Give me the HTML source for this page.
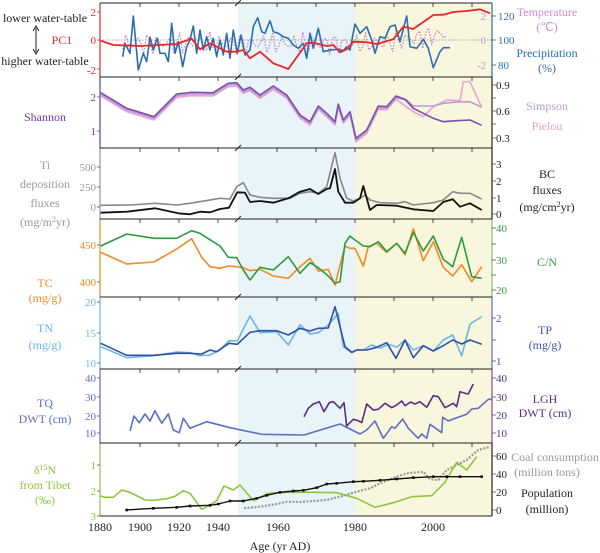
<!DOCTYPE html>
<html><head><meta charset="utf-8"><style>
body{margin:0;background:#fff}
svg{display:block}
svg text{font-family:"Liberation Serif","Times New Roman",serif}
</style></head><body>
<svg id="s" width="600" height="553" viewBox="0 0 600 553" xmlns="http://www.w3.org/2000/svg" font-family="Liberation Serif, serif">
<rect x="238" y="3" width="117" height="513" fill="#e9f4f8"/>
<rect x="355" y="3" width="137" height="513" fill="#f9f6de"/>
<g id="lines"></g>
<g id="frame" stroke="#222" stroke-width="1" fill="none">
<line x1="100" y1="3" x2="492" y2="3"/>
<line x1="100" y1="77" x2="492" y2="77"/>
<line x1="100" y1="148" x2="492" y2="148"/>
<line x1="100" y1="219" x2="492" y2="219"/>
<line x1="100" y1="297" x2="492" y2="297"/>
<line x1="100" y1="369" x2="492" y2="369"/>
<line x1="100" y1="443" x2="492" y2="443"/>
<line x1="100" y1="516" x2="492" y2="516"/>
</g>
<g font-size="11" text-anchor="end" font-family="Liberation Serif, serif">
<text x="96" y="16" fill="#e8262a">2</text><text x="96" y="44" fill="#e8262a">0</text><text x="96" y="74" fill="#e8262a">-2</text>
<text x="96" y="101" fill="#6b3d98">2</text><text x="96" y="135" fill="#6b3d98">1</text>
<text x="96" y="171" fill="#999">500</text><text x="96" y="191" fill="#999">250</text><text x="96" y="211" fill="#999">0</text>
<text x="96" y="249" fill="#f08a24">450</text><text x="96" y="286" fill="#f08a24">400</text>
<text x="96" y="306" fill="#6bb5e5">20</text><text x="96" y="337" fill="#6bb5e5">15</text><text x="96" y="367" fill="#6bb5e5">10</text>
<text x="96" y="382" fill="#5b6fc4">40</text><text x="96" y="401" fill="#5b6fc4">30</text><text x="96" y="420" fill="#5b6fc4">20</text><text x="96" y="437" fill="#5b6fc4">10</text>
<text x="96" y="469" fill="#8cc63e">1</text><text x="96" y="495" fill="#8cc63e">2</text><text x="96" y="520" fill="#8cc63e">3</text>
<text x="486" y="20" fill="#d08ad0">2</text><text x="486" y="44" fill="#d08ad0">0</text><text x="486" y="69" fill="#d08ad0">-2</text>
</g>
<g font-size="11" font-family="Liberation Serif, serif">
<text x="498" y="20" fill="#2a6db0">120</text><text x="498" y="44" fill="#2a6db0">100</text><text x="498" y="69" fill="#2a6db0">80</text>
<text x="496" y="89" fill="#222">0.9</text><text x="496" y="115" fill="#222">0.6</text><text x="496" y="142" fill="#222">0.3</text>
<text x="496" y="168" fill="#222">3</text><text x="496" y="185" fill="#222">2</text><text x="496" y="202" fill="#222">1</text><text x="496" y="218" fill="#222">0</text>
<text x="496" y="232" fill="#3a9a3e">40</text><text x="496" y="264" fill="#3a9a3e">30</text><text x="496" y="294" fill="#3a9a3e">20</text>
<text x="496" y="322" fill="#3b55b0">2</text><text x="496" y="365" fill="#3b55b0">1</text>
<text x="496" y="382" fill="#5b2d82">40</text><text x="496" y="401" fill="#5b2d82">30</text><text x="496" y="419" fill="#5b2d82">20</text><text x="496" y="437" fill="#5b2d82">10</text>
<text x="496" y="460" fill="#222">60</text><text x="496" y="478" fill="#222">40</text><text x="496" y="496" fill="#222">20</text><text x="496" y="514" fill="#222">0</text>
</g>
<g font-size="12" text-anchor="middle" font-family="Liberation Serif, serif">
<text x="45" y="22" fill="#222">lower water-table</text>
<text x="62" y="44" fill="#e8262a">PC1</text>
<text x="45" y="65" fill="#222">higher water-table</text>
<text x="45" y="121" fill="#6b3d98">Shannon</text>
<text x="45" y="169" fill="#999">Ti</text><text x="45" y="188" fill="#999">deposition</text><text x="45" y="207" fill="#999">fluxes</text><text x="45" y="226" fill="#999">(mg/m<tspan dy="-4" font-size="8">2</tspan><tspan dy="4">yr)</tspan></text>
<text x="45" y="287" fill="#f08a24">TC</text><text x="45" y="302" fill="#f08a24">(mg/g)</text>
<text x="45" y="332" fill="#6bb5e5">TN</text><text x="45" y="349" fill="#6bb5e5">(mg/g)</text>
<text x="45" y="407" fill="#5b6fc4">TQ</text><text x="45" y="423" fill="#5b6fc4">DWT (cm)</text>
<text x="45" y="474" fill="#8cc63e">δ<tspan dy="-4" font-size="8">15</tspan><tspan dy="4">N</tspan></text><text x="45" y="489" fill="#8cc63e">from Tibet</text><text x="45" y="504" fill="#8cc63e">(‰)</text>
<text x="547" y="16" fill="#d08ad0">Temperature</text><text x="547" y="31" fill="#d08ad0">(℃)</text>
<text x="547" y="57" fill="#2a6db0">Precipitation</text><text x="547" y="72" fill="#2a6db0">(%)</text>
<text x="547" y="110" fill="#b99ad8">Simpson</text><text x="547" y="130" fill="#e8a0d0">Pielou</text>
<text x="547" y="178" fill="#222">BC</text><text x="547" y="194" fill="#222">fluxes</text><text x="547" y="211" fill="#222">(mg/cm<tspan dy="-4" font-size="8">2</tspan><tspan dy="4">yr)</tspan></text>
<text x="547" y="266" fill="#3a9a3e">C/N</text>
<text x="545" y="334" fill="#3b55b0">TP</text><text x="545" y="349" fill="#3b55b0">(mg/g)</text>
<text x="545" y="403" fill="#5b2d82">LGH</text><text x="545" y="417" fill="#5b2d82">DWT (cm)</text>
<text x="555" y="461" fill="#999">Coal consumption</text><text x="547" y="476" fill="#999">(million tons)</text>
<text x="547" y="497" fill="#222">Population</text><text x="547" y="513" fill="#222">(million)</text>
</g>
<g font-size="12" text-anchor="middle" fill="#222" font-family="Liberation Serif, serif">
<text x="100" y="531">1880</text><text x="140" y="531">1900</text><text x="179" y="531">1920</text><text x="218" y="531">1940</text>
<text x="278" y="531">1960</text><text x="355" y="531">1980</text><text x="433" y="531">2000</text>
<text x="280" y="550">Age (yr AD)</text>
</g>
<g stroke="#222" stroke-width="1">
<line x1="36" y1="28" x2="36" y2="52"/>
<path d="M33,31 L36,26 L39,31 M33,49 L36,54 L39,49" fill="none"/>
</g>
</svg>
<script>
var L=document.getElementById('lines'),NS='http://www.w3.org/2000/svg';
function el(t,a,p){var e=document.createElementNS(NS,t);for(var k in a)e.setAttribute(k,a[k]);(p||L).appendChild(e);return e;}
function path(pts,ox,oy,col,w,dash){var d='';for(var i=0;i<pts.length;i+=2){d+=(i?'L':'M')+(ox+pts[i]/3).toFixed(1)+','+(oy+pts[i+1]/3).toFixed(1);}
var a={d:d,fill:'none',stroke:col,'stroke-width':w,'stroke-linejoin':'round'};if(dash)a['stroke-dasharray']=dash;return el('path',a);}
var P=[[3,77,'#e8262a','#2a6db0'],[77,148,'#6b3d98','#222'],[148,219,'#999','#222'],[219,297,'#f08a24','#7cc07c'],[297,369,'#6bb5e5','#5b6fc4'],[369,443,'#5b6fc4','#7b4fa0'],[443,516,'#8cc63e','#222']];
P.forEach(function(p){el('line',{x1:100,y1:p[0],x2:100,y2:p[1],stroke:p[2],'stroke-width':1.2});el('line',{x1:492,y1:p[0],x2:492,y2:p[1],stroke:p[3],'stroke-width':1.2});
 [140,179,218,277,316,355,394,433,472].forEach(function(x){el('line',{x1:x,y1:p[0],x2:x,y2:p[0]+4,stroke:'#222','stroke-width':0.8});});
 el('path',{d:'M235,'+(p[0]+3)+'L241,'+(p[0]-3),stroke:'#222','stroke-width':1});});
[[16,40,65],[85,98,111,124,138],[164,181,198,214],[228,244,260,275,290],[318,340,361],[378,397,415,433],[456,474,492,510]].forEach(function(a){a.forEach(function(y){el('line',{x1:492,y1:y,x2:496,y2:y,stroke:'#555','stroke-width':0.8});});});
[[12,40,69],[97,131],[167,187,207],[245,282],[302,333,363],[378,397,416,433],[465,491,516]].forEach(function(a){a.forEach(function(y){el('line',{x1:100,y1:y,x2:97,y2:y,stroke:'#555','stroke-width':0.8});});});
el('line',{x1:100,y1:40,x2:492,y2:40,stroke:'#555','stroke-width':0.6,'stroke-dasharray':'1.5,1.5'});
var temp=[];for(var x=128;x<=1100;x+=9){temp.push(x,130+Math.sin(x*0.9)*22+Math.sin(x*0.27)*14-(x>900?(x-900)*0.15:0));}
path(temp,80,0,'#c77dc7',1.2,'1.5,1.5');
path([128,170,135,130,150,160,160,48,175,210,190,160,200,185,210,112,220,150,232,115,240,160,255,160,265,185,275,70,285,160,295,125,308,200,320,140,330,120,340,78,350,160,360,90,370,150,380,110,390,150,400,115,410,170,420,120,430,165,440,100,450,175,460,90,472,160,483,105,495,165,510,150,520,80,533,53,545,95,555,100,570,62,580,95,595,100,610,110,625,115,640,135,655,145,670,130,680,175,690,100,700,145,715,85,730,155,750,150,775,148,790,152,800,140,810,150,825,72,840,100,860,80,875,120,885,160,900,110,915,115,930,80,945,75,960,125,980,48,990,140,1010,145,1030,118,1045,145,1060,203,1080,155,1090,143,1110,143],80,0,'#2a6db0',1.6);
path([62,122,100,135,180,138,290,132,335,116,360,148,390,130,440,155,470,155,490,150,510,175,540,155,580,190,625,207,680,130,700,128,740,138,760,135,780,157,800,148,820,125,860,127,890,132,940,118,970,80,1000,87,1060,45,1090,44,1120,36,1160,33,1200,28,1230,40],80,0,'#e8262a',1.8);
var sh=[62,278,140,325,222,350,290,282,335,277,400,278,420,265,445,250,470,248,490,270,510,262,540,285,580,258,620,285,660,345,690,365,715,318,740,340,765,365,775,312,790,360,810,335,828,415,860,390,870,370,895,318,920,320,948,288];
path(sh.map(function(v,i){return i%2?v+10:v;}).concat([1000,335,1030,350,1060,320,1100,300,1140,302,1150,245,1170,245,1205,322]),80,0,'#eba3d4',1.6);
path(sh.map(function(v,i){return i%2?v+5:v;}).concat([980,300,1000,318,1060,318,1090,310,1130,306,1170,305,1205,322]),80,0,'#b99ad8',1.6);
path(sh.concat([975,298,1000,325,1060,355,1090,365,1130,362,1170,360,1205,376]),80,0,'#7b4fa8',1.6);
path([62,196,150,195,225,190,290,195,330,190,420,175,450,177,470,140,490,128,510,165,540,172,580,175,630,175,660,160,690,155,715,160,740,140,765,38,780,115,800,175,820,183,840,175,855,165,870,180,900,188,950,190,975,185,1000,195,1060,188,1090,180,1118,155,1140,160,1170,160,1205,177],80,140,'#888',1.6);
path([62,218,140,215,225,205,295,220,330,223,360,215,390,217,420,207,447,203,472,157,495,158,510,186,540,183,580,188,625,175,660,155,690,147,715,162,740,147,750,145,765,87,775,155,795,188,820,188,840,175,850,138,870,210,890,195,950,197,1000,208,1060,213,1090,186,1118,178,1140,200,1170,190,1205,210],80,140,'#111',1.8);
path([62,337,140,372,222,366,290,327,335,296,365,352,390,380,420,385,445,378,470,380,490,383,510,392,540,388,580,408,625,415,660,380,690,355,715,393,745,388,765,435,795,318,810,325,825,325,850,378,865,320,890,310,920,337,950,310,975,344,1000,266,1030,362,1060,305,1090,382,1118,408,1145,374,1175,425,1205,380],80,140,'#f08a24',1.6);
path([62,318,140,282,222,295,290,295,335,272,360,280,385,296,420,318,445,352,470,353,490,390,510,420,540,382,580,390,625,350,660,400,690,368,715,383,745,408,765,430,780,425,795,310,810,288,825,300,850,318,870,320,895,305,920,335,950,310,975,340,1000,277,1030,333,1060,288,1090,358,1118,380,1145,292,1175,410,1205,415],80,140,'#2e9a3e',1.6);
path([62,170,140,203,222,197,290,186,330,188,360,197,390,195,420,180,447,152,472,153,510,78,540,128,590,125,625,165,660,104,690,132,715,128,745,105,775,70,790,170,815,188,830,180,850,180,875,165,900,175,925,163,950,172,975,150,1000,180,1030,167,1060,183,1090,150,1118,135,1145,197,1170,102,1205,80],80,290,'#6bb5e5',1.6);
path([62,160,140,196,222,196,290,190,330,190,365,192,390,180,410,185,447,160,472,163,510,127,540,122,590,122,625,135,660,115,690,123,715,115,745,114,765,50,795,170,815,187,830,180,860,180,890,172,920,158,948,205,975,150,1000,203,1030,167,1060,183,1090,167,1118,150,1145,162,1170,150,1205,163],80,290,'#2f4fa8',1.6);
path([150,423,162,378,178,398,195,372,210,393,225,362,245,400,265,372,280,420,298,428,310,385,330,415,380,395,450,413,545,433,672,435,780,402,840,432,860,420,885,393,910,445,935,410,945,415,968,387,985,415,1015,445,1025,432,1040,445,1050,403,1085,428,1088,382,1105,393,1130,383,1160,373,1175,357,1195,355,1225,328,1236,328],80,290,'#5b6fc4',1.6);
path([672,380,685,355,700,342,718,335,732,365,748,338,760,335,780,355,792,338,800,408,820,388,835,392,845,398,860,342,880,360,895,358,915,340,935,353,950,345,965,333,975,347,992,336,1005,342,1020,335,1040,352,1060,317,1075,320,1095,353,1120,340,1130,350,1140,305,1155,310,1165,312,1180,282],80,290,'#5b2d82',1.6);
path([492,235,540,230,590,222,620,215,660,216,700,213,740,210,790,197,830,185,870,175,900,160,950,140,980,130,1030,125,1050,148,1075,150,1100,120,1130,105,1160,90,1195,60,1230,50],80,430,'#999',2.2,'2,1.5');
path([62,198,75,202,100,202,125,180,150,187,195,210,220,211,260,206,285,199,310,182,330,190,365,238,385,228,410,212,432,168,460,180,480,165,520,212,565,190,620,187,700,187,770,188,830,205,885,232,945,217,995,200,1055,197,1095,157,1130,97,1160,120,1190,80],80,430,'#8cc63e',1.6);
var pop=[140,240,220,235,290,232,330,228,390,226,415,222,450,213,490,213,530,205,560,196,600,187,640,183,670,181,710,173,740,162,770,160,820,155,850,154,900,151,950,147,1000,143,1060,140,1100,140,1140,140,1205,140];
path(pop,80,430,'#111',1.4);
for(var i=0;i<pop.length;i+=2){el('rect',{x:80+pop[i]/3-1.3,y:430+pop[i+1]/3-1.3,width:2.6,height:2.6,fill:'#111'});}
</script>
</body></html>
